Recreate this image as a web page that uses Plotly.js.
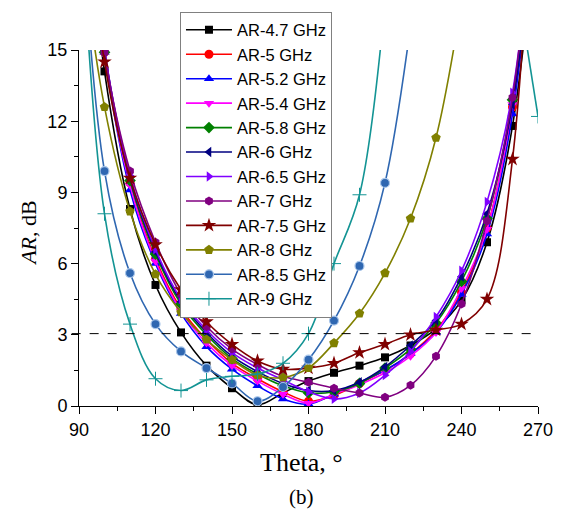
<!DOCTYPE html>
<html>
<head>
<meta charset="utf-8">
<script src="https://cdn.plot.ly/plotly-3.0.1.min.js"></script>
<style>
  html, body { margin: 0; padding: 0; background: #ffffff; }
  #chart { width: 568px; height: 513px; }
</style>
</head>
<body>
<div id="chart"></div>
<script>
// Theta (degrees)
const theta = [90, 100, 110, 120, 130, 140, 150, 160, 170, 180, 190, 200, 210, 220, 230, 240, 250, 260, 270];

// Axial ratio (dB) for each frequency
const ar47 = [24, 14.1, 8.3, 5.1, 3.1, 1.7, 0.75, 0.05, 0.55, 1.05, 1.4, 1.7, 2.05, 2.55, 3.25, 4.45, 6.9, 11.8, 21];
const ar50 = [25, 14.9, 9.4, 6.2, 4.1, 2.8, 1.8, 1.15, 0.6, 0.2, 0.45, 0.95, 1.5, 2.2, 3.2, 4.8, 7.5, 12.6, 22];
const ar52 = [25, 14.9, 9.1, 6.0, 3.9, 2.5, 1.55, 0.85, 0.3, 0.08, 0.5, 1.0, 1.5, 2.2, 3.1, 4.7, 7.25, 12.3, 22];
const ar54 = [25, 14.8, 9.3, 6.1, 4.0, 2.65, 1.7, 1.05, 0.5, 0.12, 0.5, 0.9, 1.4, 2.1, 3.1, 4.95, 7.45, 12.7, 22];
const ar58 = [25, 14.9, 9.5, 6.4, 4.3, 3.0, 2.0, 1.35, 0.85, 0.55, 0.6, 0.95, 1.6, 2.4, 3.5, 5.25, 7.9, 12.9, 22];
const ar60 = [25, 15.0, 9.6, 6.5, 4.4, 3.1, 2.1, 1.45, 0.95, 0.65, 0.65, 1.0, 1.65, 2.55, 3.6, 5.45, 8.1, 12.7, 22];
const ar65 = [25, 15.0, 9.7, 6.6, 4.5, 3.2, 2.25, 1.6, 1.1, 0.6, 0.3, 0.55, 1.3, 2.3, 3.75, 5.7, 8.6, 13.2, 23];
const ar70 = [25, 14.9, 9.9, 6.9, 4.7, 3.35, 2.4, 1.75, 1.25, 1.0, 0.75, 0.55, 0.37, 0.87, 2.1, 4.3, 7.8, 13.0, 23];
const ar75 = [24, 14.5, 9.6, 6.8, 4.9, 3.55, 2.6, 1.9, 1.55, 1.6, 1.8, 2.25, 2.6, 3.0, 3.2, 3.45, 4.5, 10.4, 28];
const ar80 = [20, 12.6, 8.2, 5.55, 3.95, 2.8, 1.95, 1.3, 1.2, 1.6, 2.65, 3.9, 5.6, 7.9, 11.3, 17, null, null, null];
const ar85 = [22, 9.9, 5.6, 3.45, 2.3, 1.6, 0.95, 0.2, 0.8, 1.95, 3.6, 5.9, 9.4, 16, null, null, null, null, null];
const ar90 = [22, 8.1, 3.45, 1.15, 0.65, 1.1, 1.25, 1.35, 1.8, 3.05, 6.0, 8.9, 17, null, null, null, null, 19, 12.2];

// Legend names
const names = ['AR-4.7 GHz', 'AR-5 GHz', 'AR-5.2 GHz', 'AR-5.4 GHz', 'AR-5.8 GHz', 'AR-6 GHz',
               'AR-6.5 GHz', 'AR-7 GHz', 'AR-7.5 GHz', 'AR-8 GHz', 'AR-8.5 GHz', 'AR-9 GHz'];
const series = [ar47, ar50, ar52, ar54, ar58, ar60, ar65, ar70, ar75, ar80, ar85, ar90];

// Reference level (dB)
const refLevel = 3.05;

// Styles
const colors = ['#000000', '#ff0000', '#0000ff', '#ff00ff', '#008000', '#000080',
                '#8000ff', '#800080', '#800000', '#808000', '#2f67b1', '#139494'];
const symbols = ['square', 'circle', 'triangle-up', 'triangle-down', 'diamond', 'triangle-left',
                 'triangle-right', 'hexagon', 'star', 'pentagon', 'circle', 'cross-thin'];
const sizes = [8, 9, 9, 9, 9, 9, 9, 9, 11, 10, 9, 10];

const traces = series.map((ys, i) => {
  const m = { symbol: symbols[i], size: sizes[i], color: colors[i] };
  if (i === 10) m.line = { color: '#a9c6ea', width: 1.2 };
  if (i === 11) m.line = { color: colors[i], width: 1 };
  return {
    type: 'scatter',
    mode: 'lines+markers',
    name: names[i],
    x: theta,
    y: ys,
    connectgaps: false,
    line: { color: colors[i], width: 1.6, shape: 'spline', smoothing: 1 },
    marker: m
  };
});

const layout = {
  width: 568,
  height: 513,
  margin: { l: 79, r: 30, t: 46, b: 107 },
  paper_bgcolor: '#ffffff',
  plot_bgcolor: '#ffffff',
  font: { family: 'Liberation Sans, Arial, sans-serif', color: '#000000' },
  xaxis: {
    range: [90, 270],
    tick0: 90,
    dtick: 30,
    ticks: 'outside',
    ticklen: 7,
    tickwidth: 1,
    tickcolor: '#000000',
    showline: true,
    linecolor: '#000000',
    linewidth: 1,
    showgrid: false,
    zeroline: false,
    tickfont: { family: 'Liberation Sans, Arial, sans-serif', size: 18, color: '#000000' },
    minor: { dtick: 15, ticks: 'outside', ticklen: 4, tickcolor: '#000000', showgrid: false }
  },
  yaxis: {
    range: [0, 15],
    tick0: 0,
    dtick: 3,
    ticks: 'outside',
    ticklen: 7,
    tickwidth: 1,
    tickcolor: '#000000',
    showline: true,
    linecolor: '#000000',
    linewidth: 1,
    showgrid: false,
    zeroline: false,
    tickfont: { family: 'Liberation Sans, Arial, sans-serif', size: 18, color: '#000000' },
    minor: { dtick: 1.5, ticks: 'outside', ticklen: 4, tickcolor: '#000000', showgrid: false }
  },
  legend: {
    x: 0.22,
    y: 1.108,
    xanchor: 'left',
    yanchor: 'top',
    maxheight: 420,
    bgcolor: '#ffffff',
    bordercolor: '#808080',
    borderwidth: 1,
    itemwidth: 46,
    font: { family: 'Liberation Sans, Arial, sans-serif', size: 16.5, color: '#000000' },
    tracegroupgap: 0
  },
  shapes: [{
    type: 'line', xref: 'paper', yref: 'y',
    x0: -0.016, x1: 1, y0: refLevel, y1: refLevel,
    line: { color: '#000000', width: 1, dash: 'dash' }
  }],
  annotations: [
    { text: 'Theta, °', xref: 'paper', yref: 'paper', x: 0.485, y: -0.158, xanchor: 'center', yanchor: 'middle',
      showarrow: false, font: { family: 'Liberation Serif, Times New Roman, serif', size: 26, color: '#000000' } },
    { text: '(b)', xref: 'paper', yref: 'paper', x: 0.485, y: -0.256, xanchor: 'center', yanchor: 'middle',
      showarrow: false, font: { family: 'Liberation Serif, Times New Roman, serif', size: 21, color: '#000000' } },
    { text: '<i>AR</i>, dB', xref: 'paper', yref: 'paper', x: -0.11, y: 0.485, xanchor: 'center', yanchor: 'middle',
      textangle: -90, showarrow: false, font: { family: 'Liberation Serif, Times New Roman, serif', size: 22, color: '#000000' } }
  ]
};

Plotly.newPlot('chart', traces, layout, { displayModeBar: false, staticPlot: true });
</script>
</body>
</html>
